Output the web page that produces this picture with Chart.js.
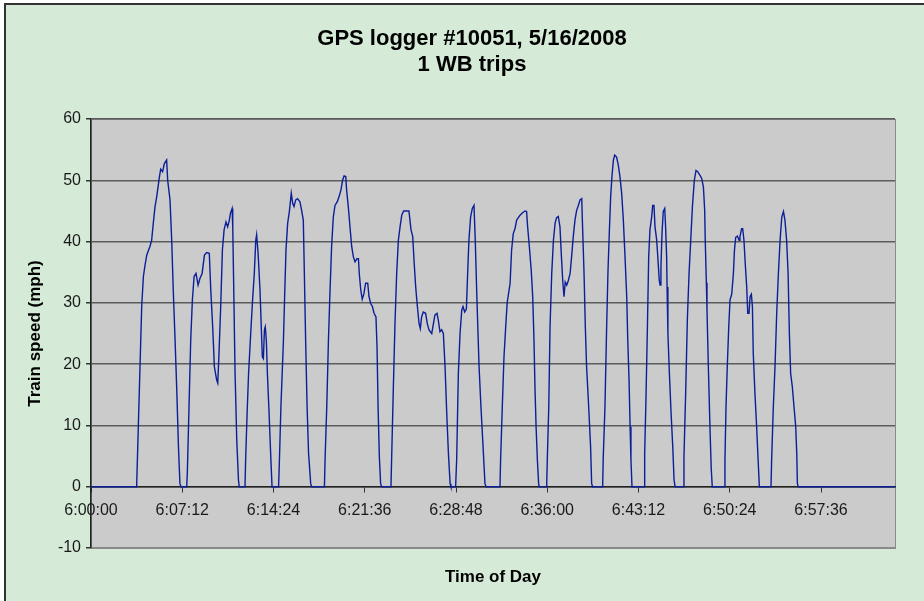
<!DOCTYPE html>
<html>
<head>
<meta charset="utf-8">
<title>GPS logger #10051</title>
<script src="https://cdn.jsdelivr.net/npm/chart.js@4/dist/chart.umd.min.js"></script>
<style>
  html, body { margin: 0; padding: 0; background: #fff; overflow: hidden; }
  canvas { display: block; }
</style>
</head>
<body>
<canvas id="speedChart" width="924" height="601"></canvas>
<script>
// seconds after 6:00:00
const secs = [
  0, 216, 224, 232, 240, 248, 256, 264, 279, 287, 295, 303, 311, 324, 330, 339, 347, 358, 363, 374, 382, 390, 398, 406, 414, 421, 426,
  453, 456, 464, 472, 480, 488, 497, 507, 516, 526, 537, 548, 560, 567, 576, 584, 595, 600, 606, 614, 622, 630, 639, 647, 655, 660, 668, 671, 677, 682, 690, 698, 702,
  729, 732, 739, 746, 756, 765, 773, 780, 784, 791, 800, 806, 811, 816, 821, 825, 830, 835, 843, 851, 857,
  888, 892, 899, 911, 917, 923, 931, 939, 948, 955, 961, 969, 978, 989, 997, 1005, 1010, 1016, 1023, 1030, 1040, 1045,
  1105, 1108, 1116, 1124, 1131, 1139, 1147, 1155, 1166, 1174, 1183, 1191, 1198, 1206, 1210, 1218, 1226, 1234, 1242, 1250, 1259, 1266, 1270, 1277, 1284, 1292, 1300, 1310, 1316, 1324, 1332, 1340, 1349, 1354, 1359, 1365, 1371, 1376,
  1420, 1423, 1431, 1439, 1447, 1455, 1463, 1471, 1480, 1490, 1505, 1515, 1523, 1529, 1537, 1545, 1553, 1559, 1565, 1573, 1584, 1592, 1600, 1613, 1621, 1628, 1638, 1644, 1652, 1660, 1668, 1676, 1684, 1692, 1700, 1704,
  1726, 1731, 1739, 1747, 1755, 1761, 1769, 1777, 1783, 1789, 1797, 1805, 1813, 1819, 1827, 1837, 1846, 1856, 1865, 1870,
  1936, 1939, 1947, 1955, 1963, 1970, 1984, 1991, 1999, 2007, 2015, 2023, 2031, 2043, 2055, 2062, 2067, 2075, 2084, 2091, 2097, 2102, 2107, 2113, 2119, 2122,
  2157, 2160, 2167, 2173, 2181, 2189, 2197, 2204, 2212, 2220, 2227, 2233, 2239, 2245, 2252, 2260, 2268, 2275, 2283, 2291, 2299, 2307, 2315, 2323, 2327, 2334, 2340, 2346, 2356, 2365, 2370, 2375,
  2422, 2425, 2433, 2441, 2447, 2454, 2460, 2466, 2473, 2479, 2488, 2496, 2504, 2512, 2520, 2528, 2536, 2541, 2547, 2552, 2556, 2561,
  2618, 2621, 2627, 2634, 2640, 2646, 2654, 2659, 2665, 2670, 2678, 2684, 2690, 2694, 2698, 2703, 2709, 2716, 2720, 2725, 2727, 2731, 2738, 2746, 2754, 2760, 2765,
  2804, 2807, 2815, 2823, 2831, 2839, 2847, 2856, 2864, 2872, 2883, 2891, 2899, 2905, 2908, 2913, 2916, 2922, 2930, 2936, 2941,
  2998, 3001, 3006, 3012, 3019, 3025, 3033, 3041, 3046, 3052, 3060, 3068, 3072, 3080, 3085, 3091, 3098, 3104, 3109, 3115, 3120, 3126, 3131, 3135, 3143, 3151, 3158, 3164,
  3219, 3222, 3230, 3238, 3246, 3254, 3262, 3270, 3278, 3285, 3293, 3300, 3306, 3312, 3320, 3328, 3336, 3341, 3344, 3348, 3806
];

const speedMph = [
  0, 0, 9.8, 19.6, 29.4, 34.3, 36.2, 37.8, 39.2, 40.2, 43, 45.7, 47.3, 50.6, 51.8, 51.4, 52.7, 53.3, 50, 46.8, 40.2, 31.5, 23.9, 15.8, 6.5, 0.5, 0,
  0, 2.2, 13, 23.9, 30.5, 34.3, 34.8, 32.9, 34, 34.8, 37.8, 38.2, 38.1, 32.1, 26.1, 19.6, 17.4, 16.9, 21.8, 29.4, 38.6, 41.9, 43.2, 42.4, 43.5, 44.6, 45.4, 42.4, 29.4, 18.5, 7.6, 1.1, 0,
  0, 4.4, 12, 18.5, 25, 30.5, 34.8, 40.2, 41.1, 38.1, 32.1, 26.1, 21.2, 20.9, 25.6, 26.1, 23.9, 18.5, 12, 4.9, 0,
  0, 4.4, 13, 23.9, 31.5, 38.6, 43, 44.9, 47.9, 46.2, 45.7, 46.8, 47, 46.5, 45.1, 43.5, 34.8, 23.9, 13, 5.4, 0.5, 0,
  0, 4.4, 13, 23.9, 31.5, 39.2, 44, 45.9, 46.5, 47.3, 48.4, 50, 50.7, 50.6, 48.4, 45.7, 42.4, 39.2, 37.5, 36.7, 37.2, 37.2, 34.8, 32.1, 30.6, 31.5, 33.2, 33.2, 31, 29.9, 29.4, 28.3, 27.7, 22.8, 13, 4.9, 0.5, 0,
  0, 4.4, 15.8, 26.6, 34.8, 40.2, 42.4, 44.3, 45, 45, 45, 41.9, 40.8, 37, 32.6, 29.4, 26.6, 25.8, 27.7, 28.5, 28.3, 26.6, 25.6, 25, 26.6, 28, 28.3, 27.2, 25.3, 25.6, 25, 19.6, 12, 5.4, 0.5, 0,
  0, 4.4, 18.5, 25, 28.8, 29.4, 28.5, 29, 34.8, 40.2, 44, 45.4, 45.9, 40.2, 30.5, 19.6, 13, 6.5, 0.5, 0,
  0, 4.4, 13, 21.2, 26, 30, 33.2, 38.6, 41.3, 42.1, 43.5, 43.9, 44.3, 44.7, 45, 44.9, 42.4, 39.2, 35.3, 31, 23.9, 15.8, 9.8, 4.4, 0.5, 0,
  0, 4.4, 13, 26.1, 34.8, 40.2, 43, 43.9, 44.1, 42.4, 37.5, 33.7, 31, 33.4, 32.9, 33.7, 34.8, 37.5, 40.8, 43.5, 45.1, 45.9, 46.8, 47, 42.4, 34.8, 26.1, 19.6, 13, 6.5, 0.5, 0,
  0, 4.9, 13, 26.1, 34.8, 41.9, 47.3, 50.6, 53.3, 54.1, 53.8, 52.5, 50.6, 47.9, 43.5, 37.5, 31, 23.9, 17.4, 9.8, 4.4, 0,
  0, 5.4, 14.1, 26.1, 37.5, 41.9, 44, 45.9, 45.9, 42.4, 40.2, 37, 33.7, 32.9, 35.9, 41.3, 44.9, 45.4, 42.4, 37.5, 32.6, 25, 18.5, 12, 6.5, 1.1, 0,
  0, 4.9, 15.2, 27.2, 34.8, 40.2, 45.7, 50, 51.6, 51.4, 50.8, 50.3, 48.9, 45.2, 39.8, 33.3, 28.9, 20.2, 9.8, 3, 0,
  0, 4.4, 13, 19.6, 26.1, 30.5, 31.4, 34.8, 38.6, 40.7, 40.9, 40.2, 40.8, 42.1, 42.1, 40.2, 35.9, 32.6, 28.3, 28.3, 31, 31.4, 29.4, 21.8, 15.2, 9.8, 4.4, 0,
  0, 4.4, 13, 19.6, 28.3, 34.8, 40.2, 44, 44.9, 43.5, 40.2, 34.8, 25, 18.5, 16.3, 13, 9.8, 5.4, 0.5, 0, 0
];

const tickSecs = [0, 432, 864, 1296, 1728, 2160, 2592, 3024, 3456];
const tickLabels = ['6:00:00', '6:07:12', '6:14:24', '6:21:36', '6:28:48', '6:36:00', '6:43:12', '6:50:24', '6:57:36'];

const font = "'Liberation Sans', Arial, sans-serif";

const backdrop = {
  id: 'backdrop',
  beforeDraw(chart) {
    const ctx = chart.ctx;
    const a = chart.chartArea;
    ctx.save();
    ctx.fillStyle = '#fff';
    ctx.fillRect(0, 0, chart.width, chart.height);
    ctx.fillStyle = '#d5ebd7';
    ctx.fillRect(5, 4, chart.width, chart.height);
    ctx.strokeStyle = '#333';
    ctx.lineWidth = 2;
    ctx.beginPath();
    ctx.moveTo(5, chart.height);
    ctx.lineTo(5, 4);
    ctx.lineTo(chart.width, 4);
    ctx.stroke();
    ctx.fillStyle = '#cbcbcb';
    ctx.fillRect(a.left, a.top, a.right - a.left, a.bottom - a.top);
    ctx.strokeStyle = '#8a8a8a';
    ctx.lineWidth = 1;
    ctx.strokeRect(a.left + 0.5, a.top + 0.5, a.right - a.left, a.bottom - a.top);
    ctx.restore();
  }
};

new Chart(document.getElementById('speedChart'), {
  type: 'line',
  data: {
    datasets: [{
      data: secs.map((s, i) => ({ x: s, y: speedMph[i] })),
      borderColor: '#0b1f98',
      borderWidth: 1.4,
      pointRadius: 0,
      tension: 0,
      fill: false
    }]
  },
  options: {
    responsive: false,
    animation: false,
    layout: { padding: { left: 49, right: 29, top: 0, bottom: 0 } },
    plugins: {
      legend: { display: false },
      tooltip: { enabled: false },
      title: {
        display: true,
        text: ['GPS logger #10051, 5/16/2008', '1 WB trips'],
        color: '#000',
        font: { family: font, size: 22, weight: 'bold', lineHeight: '26px' },
        padding: { top: 26, bottom: 41 }
      },
      subtitle: {
        display: true,
        position: 'bottom',
        fullSize: false,
        text: 'Time of Day',
        color: '#000',
        font: { family: font, size: 17, weight: 'bold', lineHeight: '20px' },
        padding: { top: 19, bottom: 14 }
      }
    },
    scales: {
      x: {
        type: 'linear',
        position: { y: 0 },
        min: 0,
        max: 3806,
        afterBuildTicks: (scale) => { scale.ticks = tickSecs.map(v => ({ value: v })); },
        afterFit: (scale) => { scale.height = 0; },
        ticks: {
          autoSkip: false,
          maxRotation: 0,
          padding: 9,
          color: '#1a1a1a',
          font: { family: font, size: 16 },
          callback: (v, i) => tickLabels[i]
        },
        grid: { drawOnChartArea: false, drawTicks: true, tickLength: 5, tickColor: '#333' },
        border: { display: true, color: '#222', width: 1.5 }
      },
      y: {
        min: -10,
        max: 60,
        afterFit: (scale) => { scale.width = 42; },
        ticks: {
          stepSize: 10,
          padding: 5,
          color: '#1a1a1a',
          font: { family: font, size: 16 }
        },
        grid: {
          color: (c) => c.tick && c.tick.value === -10 ? '#8a8a8a' : '#5c5c5c',
          lineWidth: 1.5,
          tickLength: 5,
          tickColor: '#333'
        },
        border: { display: true, color: '#222', width: 1.5 },
        title: {
          display: true,
          text: 'Train speed (mph)',
          color: '#000',
          font: { family: font, size: 17, weight: 'bold', lineHeight: '20px' },
          padding: { top: -24, bottom: 0 }
        }
      }
    }
  },
  plugins: [backdrop]
});
</script>
</body>
</html>
